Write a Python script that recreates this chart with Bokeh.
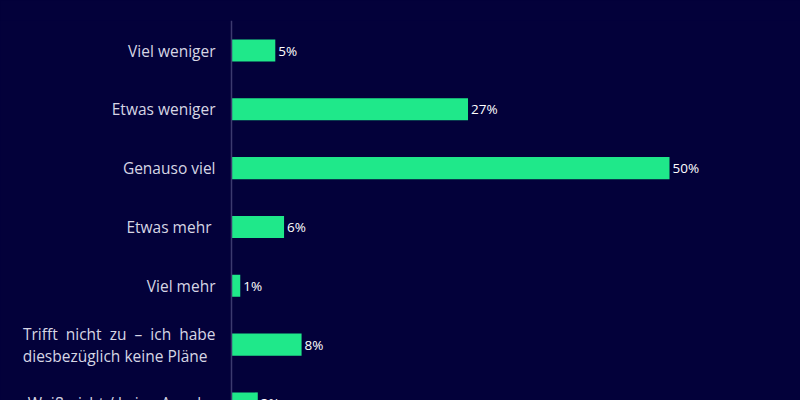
from bokeh.plotting import figure
from bokeh.models import ColumnDataSource, Range1d, GlobalInlineStyleSheet, Span
from bokeh.core.properties import value
from bokeh.embed import file_html
from bokeh.resources import INLINE

NB = "\u00a0"
categories = [
    "Viel weniger",
    "Etwas weniger",
    "Genauso viel",
    "Etwas mehr ",
    "Viel mehr",
    "Trifft nicht zu \u2013 ich habe\ndiesbez\u00fcglich keine Pl\u00e4ne",
    "Wei\u00df nicht / keine Angabe",
]
values = [5, 27, 50, 6, 1, 8, 3]
value_labels = ["5%", "27%", "50%", "6%", "1%", "8%", "3%"]

BG = "#03013a"
BAR = "#1fe88a"


def justify(label):
    # emulate the justified two-line label of the original (first line stretched, last line left)
    if "\n" not in label:
        return label
    first, last = label.split("\n")
    first = first.replace(" ", " " + NB)
    last = last + NB * 2
    return first + "\n" + last


idx = list(range(len(categories)))
src = ColumnDataSource(dict(y=idx, v=values, lab=value_labels,
                            zero=[0] * len(idx), cat=[justify(c) for c in categories]))

px_per_unit = 8.76
p = figure(width=800, height=400, output_backend="svg", toolbar_location=None,
           x_range=Range1d(-231 / px_per_unit, (800 - 231) / px_per_unit),
           y_range=Range1d(5.95, -0.51),
           min_border_left=0, min_border_right=0, min_border_top=20, min_border_bottom=0)
p.stylesheets = [GlobalInlineStyleSheet(css=f"html, body {{ margin: 0; padding: 0; background: {BG}; overflow: hidden; }}")]
p.background_fill_color = BG
p.border_fill_color = BG
p.outline_line_color = None
p.grid.visible = False
p.xaxis.visible = False
p.yaxis.visible = False

p.add_layout(Span(location=0, dimension="height", line_color="#3c3a6e", line_width=1.5))

p.hbar(y="y", right="v", left=0, height=0.375, source=src, color=BAR, line_color=None)

p.text(x="v", y="y", text="lab", source=src, x_offset=3, text_baseline="middle",
       text_align="left", text_color="#ffffff", text_font_size="13.5px",
       text_font=value("Open Sans"))

p.text(x="zero", y="y", text="cat", source=src, x_offset=-16, text_baseline="middle",
       text_align="right", text_color="#d6d6e4", text_font_size="15.5px",
       text_font=value("Open Sans"), text_line_height=1.0)

open("out.html", "w").write(file_html(p, INLINE))
